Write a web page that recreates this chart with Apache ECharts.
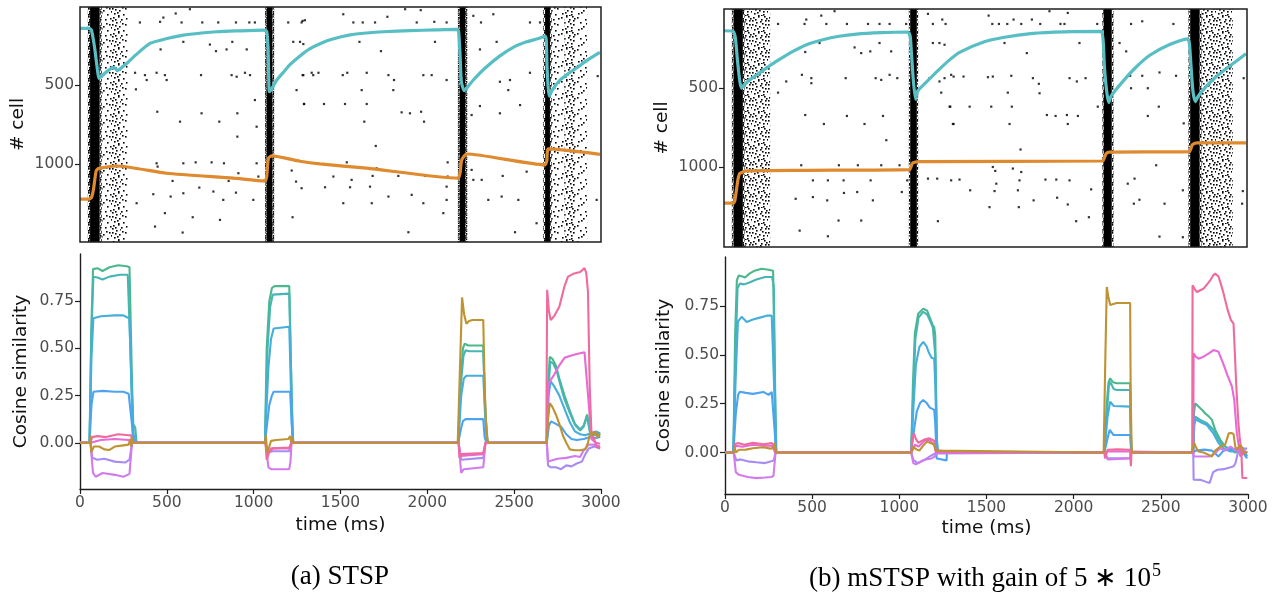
<!DOCTYPE html>
<html><head><meta charset="utf-8">
<script src="https://cdn.jsdelivr.net/npm/echarts@6/dist/echarts.min.js"></script>
<style>html,body{margin:0;padding:0;background:#fff}#c{width:1284px;height:592px}</style>
</head><body><div id="c"></div>
<script>
// ---------- DATA ----------
const xTicks = [0, 500, 1000, 1500, 2000, 2500, 3000];
const cellTicks = [500, 1000];
const cosTicks = [0, 0.25, 0.5, 0.75];
const captionA = '(a) STSP';
const captionB = '(b) mSTSP with gain of 5 \u2217 10';
const captionBsup = '5';

// raster: dense/sparse firing bands [t0, t1, density]
const bandsA = [[45,58,'dense'],[58,113,'core'],[113,125,'dense'],[125,178,'sparse'],[178,235,'medium'],[235,275,'sparse'],
  [1066,1075,'dense'],[1075,1108,'core'],[1108,1118,'dense'],
  [2176,2186,'dense'],[2186,2218,'core'],[2218,2230,'dense'],
  [2668,2678,'dense'],[2678,2706,'core'],[2706,2716,'dense'],[2716,2790,'sparse'],[2790,2850,'medium'],[2850,2920,'sparse']];
const bandsB = [[45,55,'dense'],[55,108,'core'],[108,118,'dense'],[118,265,'medium'],
  [1060,1068,'dense'],[1068,1106,'core'],[1106,1114,'dense'],
  [2170,2178,'dense'],[2178,2224,'core'],[2224,2234,'dense'],
  [2664,2674,'dense'],[2674,2728,'core'],[2728,2738,'dense'],[2738,2918,'medium']];

// raster: isolated spikes [t (ms), cell]
const spikesA = [[345,103],[461,99],[480,72],[551,46],[585,103],[633,19],[704,103],[796,103],[898,103],[975,103],[1007,103],
 [595,226],[748,243],[783,285],[844,274],[877,226],[960,274],[464,274],[317,422],[374,437],[441,422],[489,437],[322,527],
 [384,468],[499,468],[697,437],[873,437],[902,447],[950,422],[979,437],[1007,595],[445,669],[576,732],[700,679],[802,732],
 [906,679],[906,827],[1017,764],[1228,226],[1267,226],[1286,240],[1343,437],[1286,437],[1247,532],[1290,620],[441,996],
 [447,1017],[533,1108],[595,996],[666,990],[758,990],[829,996],[856,1108],[912,1059],[1017,996],[1027,1080],[422,1192],
 [522,1207],[595,1186],[687,1150],[768,1175],[825,1228],[898,1182],[998,1228],[326,1249],[489,1312],[649,1338],[806,1355],
 [432,1397],[591,1435],[1244,1112],[1219,1042],[1276,1154],[1224,1338],[1276,103],[1199,103],[1295,89],
 [1516,51],[1574,103],[1628,103],[1699,103],[1770,67],[1872,19],[1939,103],[1962,25],[2040,99],[2111,103],[2265,61],
 [2309,103],[2380,51],[2591,103],[2649,103],[1282,93],[1609,226],[1733,285],[2044,226],[2303,274],[2399,226],[1282,437],
 [1334,422],[1373,422],[1513,437],[1539,422],[1651,422],[1776,437],[1808,468],[1977,437],[2025,437],[2111,468],[2476,468],
 [2591,422],[1622,532],[1804,532],[2418,479],[2466,532],[1290,620],[1405,620],[1526,620],[1651,620],[1852,673],[1900,679],
 [1964,669],[1981,732],[1637,732],[2255,690],[2303,633],[2418,679],[2534,627],[1703,886],[1536,990],[1708,1028],[2117,990],
 [1459,1080],[1564,1101],[1685,1076],[1833,1076],[1987,1076],[2117,1080],[2255,1038],[2313,1101],[2434,1076],[2572,1049],
 [1411,1148],[1555,1148],[1670,1144],[1776,1207],[1910,1196],[2111,1144],[2265,1101],[1516,1249],[1680,1249],[1977,1249],
 [2111,1228],[2351,1228],[2428,1207],[2524,1228],[2092,1312],[1891,1433],[2505,1433],[2629,1376],[2975,1228],[2981,443]];
const spikesB = [[310,92],[462,92],[472,64],[558,39],[587,92],[634,11],[705,92],[826,92],[892,92],[950,92],[1045,92],
 [548,213],[749,241],[787,277],[839,266],[892,213],[959,266],[466,270],[357,457],[310,528],[447,415],[501,436],[501,468],
 [698,436],[870,436],[902,447],[950,415],[994,436],[466,670],[573,727],[705,676],[806,727],[912,676],[931,830],[443,989],
 [510,1085],[596,1085],[659,989],[686,1085],[768,989],[841,1085],[902,989],[1007,989],[1051,1085],[411,1202],[510,1191],
 [592,1212],[688,1165],[764,1159],[854,1212],[1020,1159],[657,1340],[787,1340],[434,1404],[596,1440],[1170,28],[1198,92],
 [1252,64],[1271,92],[1198,213],[1236,213],[1265,224],[1179,436],[1236,457],[1265,436],[1303,415],[1246,528],[1294,617],
 [1313,727],[1170,1074],[1223,1074],[1303,1085],[1227,1344],
 [1518,39],[1539,92],[1577,92],[1625,92],[1661,64],[1705,92],[1766,64],[1814,92],[1867,11],[1930,92],[1953,92],[1972,22],
 [2141,92],[1609,213],[1737,277],[2039,213],[1317,426],[1374,426],[1514,430],[1542,426],[1648,421],[1772,436],[1806,472],
 [1810,532],[1628,528],[1982,436],[2024,457],[2074,436],[1298,617],[1409,617],[1533,617],[1651,617],[1852,670],[1902,676],
 [1967,670],[2030,676],[2144,617],[1317,727],[1638,727],[1972,727],[1701,889],[1542,1000],[1556,1025],[1657,1010],[1705,1032],
 [1351,1080],[1562,1106],[1695,1085],[1844,1080],[1906,1080],[1982,1085],[1412,1148],[1552,1153],[1686,1148],[2106,1142],
 [1776,1212],[1911,1195],[1972,1238],[1523,1255],[1691,1255],[2020,1344],[2093,1319],[2335,92],[2399,75],[2578,92],[2269,213],
 [2307,266],[2498,400],[2593,421],[2330,421],[2399,421],[2335,500],[2431,500],[2494,617],[2431,676],[2637,723],[2355,1074],
 [2479,989],[2316,1106],[2632,1148],[2383,1208],[2351,1233],[2527,1233],[2498,1442],[2632,1446],[2981,436],[2976,1153],[2972,1233]];

// overlay traces on raster (in cell units)
const cyanA = [[0,141],[50,141],[65,150],[75,200],[86,278],[100,400],[109,458],[125,443],[160,410],[192,388],[203,395],[215,408],[240,388],[269,363],[320,310],[403,236],[500,205],[595,183],[700,170],[787,162],[900,157],[1056,152],[1075,160],[1083,265],[1090,542],[1100,530],[1133,468],[1170,420],[1209,370],[1267,315],[1320,272],[1382,238],[1450,210],[1555,182],[1650,170],[1747,162],[1900,155],[2050,150],[2169,147],[2180,160],[2188,300],[2196,480],[2213,536],[2230,515],[2265,468],[2330,395],[2418,315],[2500,258],[2572,226],[2640,205],[2678,190],[2685,220],[2690,400],[2702,570],[2720,530],[2764,468],[2800,437],[2841,405],[2880,375],[2917,345],[2960,315],[2994,292]];
const orangeA = [[0,1223],[50,1223],[65,1215],[77,1165],[90,1060],[96,1038],[115,1027],[211,1013],[499,1059],[883,1090],[1065,1108],[1075,1080],[1085,964],[1104,949],[1267,983],[1382,1000],[1651,1027],[2178,1090],[2188,1060],[2198,975],[2226,937],[2678,1006],[2688,980],[2697,905],[2994,939]];
const cyanB = [[0,135],[52,139],[65,180],[77,320],[90,450],[100,500],[115,480],[147,447],[243,372],[300,330],[377,277],[470,225],[567,192],[660,170],[759,156],[900,147],[1055,143],[1068,170],[1074,256],[1086,450],[1099,570],[1110,520],[1160,462],[1230,385],[1294,320],[1351,272],[1485,208],[1600,178],[1771,152],[1950,142],[2163,139],[2175,200],[2182,362],[2195,520],[2207,592],[2220,550],[2287,458],[2360,370],[2440,292],[2550,225],[2660,187],[2670,220],[2679,362],[2690,520],[2704,585],[2720,550],[2765,490],[2810,440],[2860,394],[2930,335],[2994,281]];
const orangeB = [[0,1230],[52,1230],[62,1215],[71,1149],[80,1080],[90,1042],[128,1025],[472,1021],[1064,1017],[1072,1000],[1083,974],[1122,966],[2172,962],[2182,940],[2192,915],[2211,906],[2669,902],[2679,880],[2688,857],[2717,847],[2994,847]];

// cosine similarity, panel (a)
const cosA_green = [[0,0],[55,0],[65,0.6],[75,0.92],[100,0.925],[130,0.91],[170,0.93],[220,0.94],[270,0.935],[285,0.93],[300,0.3],[310,0],
 [1065,0],[1075,0.5],[1090,0.75],[1105,0.82],[1120,0.83],[1205,0.83],[1215,0.4],[1225,0],
 [2178,0],[2190,0.3],[2205,0.5],[2215,0.525],[2235,0.515],[2322,0.515],[2332,0.2],[2345,0],
 [2688,0],[2695,0.3],[2705,0.455],[2720,0.445],[2740,0.41],[2760,0.34],[2790,0.25],[2820,0.17],[2850,0.1],[2880,0.07],[2900,0.09],[2920,0.15],[2935,0.07],[2950,0.05],[2975,0.04],[2995,0.03]];
const cosA_teal = [[0,0],[55,0],[65,0.55],[77,0.88],[100,0.875],[130,0.865],[170,0.88],[230,0.89],[275,0.89],[285,0.88],[305,0.1],[318,0.08],[326,0],
 [1065,0],[1080,0.5],[1095,0.72],[1110,0.785],[1205,0.79],[1220,0.2],[1228,0],
 [2178,0],[2192,0.3],[2208,0.46],[2220,0.49],[2240,0.485],[2322,0.485],[2335,0.15],[2348,0],
 [2688,0],[2697,0.28],[2708,0.43],[2725,0.42],[2745,0.38],[2765,0.31],[2790,0.23],[2820,0.16],[2850,0.095],[2880,0.065],[2900,0.085],[2920,0.14],[2935,0.06],[2955,0.04],[2975,0.05],[2995,0.04]];
const cosA_lightblue = [[0,0],[55,0],[66,0.45],[77,0.66],[120,0.67],[200,0.675],[250,0.675],[270,0.665],[285,0.66],[305,0],
 [1065,0],[1085,0.4],[1100,0.55],[1115,0.605],[1125,0.615],[1205,0.615],[1220,0.1],[1228,0],
 [2178,0],[2195,0.25],[2210,0.34],[2225,0.355],[2322,0.355],[2335,0.1],[2345,0],
 [2688,0],[2698,0.25],[2710,0.325],[2730,0.3],[2760,0.25],[2790,0.18],[2820,0.11],[2850,0.06],[2880,0.045],[2910,0.04],[2940,0.05],[2970,0.06],[2995,0.05]];
const cosA_blue = [[0,0],[55,0],[66,0.2],[77,0.27],[130,0.275],[200,0.27],[250,0.27],[280,0.26],[290,0.25],[305,0.05],[315,0.02],[320,0],
 [1065,0],[1090,0.2],[1105,0.25],[1115,0.27],[1210,0.27],[1222,0.05],[1228,0],
 [2178,0],[2195,0.08],[2205,0.115],[2220,0.125],[2322,0.125],[2330,0.03],[2340,0],
 [2688,0],[2700,0.09],[2712,0.113],[2740,0.1],[2770,0.085],[2800,0.045],[2830,0.02],[2860,0.015],[2900,0.02],[2940,0.03],[2970,0.025],[2995,0.03]];
const cosA_lavender = [[0,0],[60,0],[70,-0.08],[100,-0.09],[140,-0.085],[200,-0.1],[260,-0.105],[285,-0.09],[300,0],
 [1068,0],[1085,-0.05],[1110,-0.045],[1205,-0.045],[1215,0],
 [2180,0],[2195,-0.09],[2205,-0.085],[2322,-0.08],[2335,0],
 [2688,0],[2695,-0.12],[2710,-0.13],[2740,-0.13],[2770,-0.14],[2800,-0.12],[2830,-0.125],[2860,-0.11],[2890,-0.1],[2910,-0.06],[2930,-0.03],[2960,-0.02],[2995,-0.03]];
const cosA_orchid = [[0,0],[60,0],[75,-0.16],[90,-0.18],[130,-0.16],[200,-0.17],[250,-0.18],[285,-0.165],[295,-0.05],[300,0],
 [1068,0],[1085,-0.13],[1100,-0.14],[1205,-0.14],[1212,-0.1],[1218,0],
 [2180,0],[2195,-0.16],[2210,-0.14],[2322,-0.13],[2335,0],
 [2688,0],[2695,-0.1],[2710,-0.095],[2750,-0.085],[2800,-0.08],[2850,-0.07],[2880,-0.075],[2900,-0.04],[2930,-0.01],[2960,-0.01],[2995,-0.02]];
const cosA_magenta = [[0,0],[60,0],[70,0.01],[120,0.015],[200,0.02],[280,0.015],[300,0],
 [1068,0],[1080,-0.06],[1100,-0.03],[1205,-0.03],[1220,0],
 [2180,0],[2190,-0.07],[2200,-0.065],[2322,-0.06],[2335,0],
 [2688,0],[2695,0.3],[2705,0.325],[2730,0.36],[2760,0.41],[2790,0.45],[2820,0.46],[2860,0.47],[2905,0.48],[2915,0.47],[2930,0.2],[2945,0.02],[2970,0.0],[2995,-0.005]];
const cosA_pink = [[0,0],[60,0],[70,0.03],[100,0.035],[150,0.03],[220,0.045],[280,0.04],[295,0.04],[300,0],
 [1068,0],[1075,-0.09],[1090,-0.05],[1110,-0.03],[1205,-0.025],[1220,0],
 [2180,0],[2185,-0.08],[2195,-0.06],[2322,-0.055],[2335,0],
 [2685,0],[2690,0.81],[2700,0.7],[2710,0.65],[2730,0.67],[2760,0.72],[2790,0.83],[2810,0.88],[2840,0.895],[2880,0.905],[2905,0.925],[2915,0.9],[2925,0.8],[2935,0.3],[2945,0.05],[2960,0.02],[2975,-0.02],[2995,-0.03]];
const cosA_gold = [[0,0],[57,0],[60,0.04],[65,-0.05],[80,-0.02],[110,-0.02],[140,-0.035],[170,-0.038],[200,-0.02],[240,-0.015],[280,-0.01],[290,0.02],[295,-0.02],[300,0.03],[305,0],
 [1065,0],[1070,0.04],[1078,-0.05],[1090,-0.02],[1100,0.01],[1130,0.015],[1200,0.02],[1210,0.035],[1215,0.005],[1220,0.03],[1225,0],
 [2175,0],[2188,0.4],[2200,0.77],[2212,0.68],[2225,0.63],[2240,0.645],[2260,0.65],[2322,0.65],[2330,0.3],[2340,0.05],[2350,0],
 [2688,0],[2695,0.12],[2705,0.21],[2720,0.19],[2740,0.15],[2760,0.1],[2780,0.04],[2800,0.0],[2820,-0.035],[2850,-0.04],[2880,-0.04],[2910,-0.035],[2925,0.0],[2940,0.06],[2955,0.04],[2965,0.06],[2980,0.03],[2995,0.05]];

// cosine similarity, panel (b)
const cosB_green = [[0,0],[48,0],[58,0.6],[68,0.88],[78,0.905],[100,0.9],[115,0.895],[140,0.915],[170,0.93],[210,0.94],[250,0.935],[276,0.93],[285,0.4],[292,0],
 [1068,0],[1078,0.35],[1089,0.61],[1108,0.71],[1137,0.736],[1160,0.725],[1175,0.69],[1190,0.655],[1200,0.64],[1206,0.6],[1214,0.1],[1220,0],
 [2176,0],[2190,0.25],[2200,0.36],[2209,0.379],[2225,0.36],[2247,0.354],[2324,0.354],[2328,0.1],[2333,0],
 [2686,0],[2690,0.2],[2697,0.252],[2716,0.235],[2740,0.215],[2755,0.2],[2775,0.185],[2793,0.167],[2812,0.116],[2841,0.065],[2869,0.03],[2898,0.015],[2927,0.0],[2960,0.01],[2995,0.0]];
const cosB_teal = [[0,0],[48,0],[60,0.5],[72,0.84],[85,0.864],[110,0.86],[140,0.87],[180,0.885],[230,0.898],[270,0.898],[280,0.85],[288,0.3],[295,0],
 [1068,0],[1080,0.3],[1092,0.58],[1110,0.69],[1137,0.72],[1160,0.705],[1178,0.67],[1192,0.64],[1200,0.634],[1206,0.5],[1216,0.05],[1222,0],
 [2176,0],[2192,0.22],[2202,0.34],[2209,0.362],[2230,0.325],[2247,0.32],[2324,0.32],[2330,0],
 [2686,0],[2690,0.15],[2697,0.184],[2726,0.167],[2764,0.15],[2802,0.116],[2831,0.065],[2860,0.035],[2890,0.02],[2927,0.01],[2960,0.0],[2995,-0.01]];
const cosB_lightblue = [[0,0],[48,0],[62,0.4],[74,0.67],[95,0.694],[125,0.668],[160,0.68],[200,0.69],[240,0.7],[268,0.7],[276,0.69],[283,0.3],[292,0],
 [1068,0],[1082,0.25],[1095,0.45],[1115,0.54],[1137,0.566],[1155,0.545],[1170,0.51],[1185,0.485],[1200,0.48],[1206,0.35],[1215,0.03],[1222,0],
 [2176,0],[2194,0.18],[2209,0.26],[2230,0.238],[2324,0.235],[2330,0],
 [2686,0],[2692,0.14],[2700,0.17],[2730,0.155],[2764,0.14],[2800,0.1],[2830,0.05],[2860,0.02],[2900,0.005],[2940,0.01],[2970,0.02],[2995,-0.02]];
const cosB_blue = [[0,0],[48,0],[62,0.2],[75,0.294],[85,0.311],[120,0.305],[160,0.3],[220,0.31],[250,0.295],[268,0.31],[276,0.3],[290,0.05],[295,0],
 [1068,0],[1085,0.12],[1100,0.21],[1120,0.255],[1137,0.269],[1155,0.255],[1175,0.23],[1200,0.218],[1206,0.15],[1214,-0.03],[1225,-0.04],[1271,-0.04],[1273,0],
 [2176,0],[2196,0.08],[2207,0.116],[2228,0.09],[2324,0.09],[2330,0],
 [2686,0],[2700,0.01],[2750,0.015],[2793,0.01],[2830,-0.02],[2860,0.01],[2900,0.02],[2940,0.015],[2970,0.0],[2995,-0.03]];
const cosB_lavender = [[0,0],[50,0],[65,-0.04],[90,-0.035],[130,-0.045],[180,-0.05],[230,-0.054],[265,-0.045],[280,-0.04],[290,0],
 [1068,0],[1080,-0.037],[1105,-0.054],[1145,-0.037],[1175,-0.02],[1205,-0.005],[1213,0],
 [2176,0],[2195,-0.029],[2324,-0.029],[2330,0],
 [2686,0],[2688,-0.139],[2730,-0.14],[2760,-0.15],[2780,-0.156],[2800,-0.1],[2825,-0.088],[2860,-0.085],[2900,-0.075],[2918,-0.07],[2928,-0.055],[2945,0.01],[2960,0.03],[2975,0.02],[2995,0.02]];
const cosB_orchid = [[0,0],[50,0],[62,-0.1],[80,-0.114],[130,-0.125],[180,-0.131],[230,-0.128],[265,-0.125],[278,-0.12],[285,-0.05],[290,0],
 [1068,0],[1080,-0.054],[1095,-0.06],[1145,-0.037],[1185,-0.03],[1205,-0.02],[1213,0],
 [2176,0],[2195,-0.035],[2324,-0.03],[2330,0],
 [2686,0],[2690,-0.02],[2720,-0.02],[2780,-0.02],[2810,-0.005],[2840,0.022],[2870,0.01],[2900,0.03],[2930,0.01],[2960,0.02],[2995,0.0]];
const cosB_magenta = [[0,0],[50,0],[62,0.035],[100,0.03],[160,0.04],[220,0.035],[270,0.035],[288,0],
 [1070,0],[1090,0.04],[1110,0.03],[1145,0.06],[1170,0.065],[1200,0.04],[1210,0],
 [2176,0],[2195,0.005],[2324,0.005],[2330,0],
 [2686,0],[2688,0.507],[2700,0.49],[2716,0.48],[2745,0.49],[2780,0.51],[2802,0.524],[2831,0.515],[2860,0.45],[2880,0.4],[2908,0.337],[2921,0.27],[2936,0.099],[2956,-0.02],[2975,0.0],[2995,0.0]];
const cosB_pink = [[0,0],[50,0],[60,0.045],[80,0.048],[110,0.04],[160,0.05],[220,0.042],[268,0.048],[280,0.04],[290,0],
 [1068,0],[1072,0.05],[1083,0.099],[1095,0.07],[1108,0.05],[1140,0.065],[1170,0.073],[1200,0.06],[1210,0.01],[1230,0.01],[1271,0.005],[1273,0],
 [2176,0],[2180,-0.03],[2195,0.014],[2250,0.016],[2324,0.014],[2328,-0.07],[2332,0],
 [2680,0],[2682,0.855],[2695,0.835],[2707,0.821],[2726,0.83],[2745,0.838],[2765,0.86],[2783,0.88],[2800,0.905],[2812,0.915],[2831,0.9],[2845,0.86],[2860,0.813],[2880,0.74],[2902,0.677],[2917,0.66],[2925,0.5],[2933,0.337],[2945,0.15],[2952,0.08],[2962,0.0],[2968,-0.13],[2995,-0.13]];
const cosB_gold = [[0,0],[50,0],[55,0.03],[62,0.0],[80,0.014],[120,0.015],[160,0.022],[220,0.027],[260,0.02],[280,0.025],[287,0.05],[292,0],
 [1068,0],[1072,-0.003],[1078,0.03],[1100,0.015],[1115,0.01],[1140,0.039],[1160,0.056],[1180,0.048],[1200,0.04],[1208,0.01],[1213,0],
 [2172,0],[2182,0.5],[2190,0.847],[2200,0.79],[2210,0.755],[2218,0.753],[2228,0.76],[2247,0.765],[2324,0.765],[2327,0.3],[2333,0],
 [2676,0],[2682,0.0],[2691,0.051],[2700,0.03],[2716,0.005],[2745,0.0],[2774,-0.012],[2793,-0.02],[2812,0.01],[2841,0.03],[2869,0.04],[2890,0.099],[2905,0.1],[2917,0.095],[2927,0.03],[2936,0.015],[2955,0.04],[2968,0.02],[2978,-0.005],[2995,0.005]];

// ---------- STYLE ----------
const palette = {green:'#4bb78b', teal:'#47b5b3', lightblue:'#46aedb', blue:'#4da3ef', lavender:'#a68cf3',
  orchid:'#d27bec', magenta:'#e76ad6', pink:'#ef6b9e', gold:'#bd9333'};
const cosOrder = ['green','teal','lightblue','blue','lavender','orchid','magenta','pink','gold'];
const cosA = {green:cosA_green, teal:cosA_teal, lightblue:cosA_lightblue, blue:cosA_blue, lavender:cosA_lavender, orchid:cosA_orchid, magenta:cosA_magenta, pink:cosA_pink, gold:cosA_gold};
const cosB = {green:cosB_green, teal:cosB_teal, lightblue:cosB_lightblue, blue:cosB_blue, lavender:cosB_lavender, orchid:cosB_orchid, magenta:cosB_magenta, pink:cosB_pink, gold:cosB_gold};

function makePattern(dots, size, s) {
  const c = document.createElement('canvas'); c.width = size; c.height = size;
  const g = c.getContext('2d'); g.fillStyle = '#000';
  dots.forEach(d => g.fillRect(d[0], d[1], s, s));
  return {image: c, repeat: 'repeat'};
}
const fills = {
  core: '#000',
  dense: makePattern([[0,0],[2,1],[5,0],[7,2],[1,3],[4,3],[6,5],[3,5],[0,6],[2,7],[5,7],[7,4],[3,1],[1,5]], 8, 1.7),
  medium: makePattern([[1,1],[9,3],[4,6],[13,8],[7,10],[2,13],[11,14],[14,2],[6,0],[10,7],[3,3],[12,0],[0,8],[8,5],[15,11],[5,12],[9,15],[13,4],[3,9],[11,11],[6,15],[0,4]], 16, 1.6),
  sparse: makePattern([[1,1],[9,3],[4,6],[13,8],[7,10],[2,13],[11,14],[14,2],[10,7],[5,12]], 16, 1.6)
};

const tickFont = {fontFamily:'DejaVu Sans', fontSize:15.5, color:'#4d4d4d'};
const nameFont = {fontFamily:'DejaVu Sans', fontSize:18.5, color:'#111'};

const grids = [
  {left:80, top:7, width:521, height:235, show:true, z:10, backgroundColor:'transparent', borderColor:'#1e1e1e', borderWidth:1.5},
  {left:80, top:254, width:521, height:235},
  {left:724, top:9, width:523, height:238, show:true, z:10, backgroundColor:'transparent', borderColor:'#1e1e1e', borderWidth:1.5},
  {left:725, top:257, width:523, height:237}
];

function topX(gi){ return {type:'value', gridIndex:gi, min:0, max:3000, show:false}; }
function botX(gi, gap){ return {type:'value', gridIndex:gi, min:0, max:3000, interval:500,
  axisLine:{show:true, onZero:false, lineStyle:{color:'#1e1e1e', width:1.4}},
  axisTick:{show:true, length:5, lineStyle:{color:'#1e1e1e', width:1.2}},
  axisLabel:{...tickFont, margin:6, formatter:v=>String(v)}, splitLine:{show:false},
  name:'time (ms)', nameLocation:'middle', nameGap:gap, nameTextStyle:nameFont}; }
function topY(gi, mn, mx, gap){ return {type:'value', gridIndex:gi, min:mn, max:mx, inverse:true,
  axisLine:{show:false, onZero:false}, splitLine:{show:false},
  axisTick:{show:true, length:5, customValues:cellTicks, lineStyle:{color:'#1e1e1e', width:1.2}},
  axisLabel:{...tickFont, margin:6, customValues:cellTicks, formatter:v=>String(v)},
  name:'# cell', nameLocation:'middle', nameRotate:90, nameGap:gap, nameTextStyle:nameFont}; }
function botY(gi, mn, mx, gap){ return {type:'value', gridIndex:gi, min:mn, max:mx,
  axisLine:{show:true, onZero:false, lineStyle:{color:'#1e1e1e', width:1.4}}, splitLine:{show:false},
  axisTick:{show:true, length:5, customValues:cosTicks, lineStyle:{color:'#1e1e1e', width:1.2}},
  axisLabel:{...tickFont, margin:6, customValues:cosTicks, formatter:v=>v.toFixed(2)},
  name:'Cosine similarity', nameLocation:'middle', nameRotate:90, nameGap:gap, nameTextStyle:nameFont}; }

function bandSeries(gi, bands){
  return {type:'custom', xAxisIndex:gi, yAxisIndex:gi, silent:true, z:1, clip:true,
    data: bands.map(b => [b[0], b[1], ['core','dense','medium','sparse'].indexOf(b[2])]),
    encode:{x:[0,1]},
    renderItem:(params, api) => {
      const cs = params.coordSys;
      const x0 = api.coord([api.value(0), 500])[0];
      const x1 = api.coord([api.value(1), 500])[0];
      const k = ['core','dense','medium','sparse'][api.value(2)];
      return {type:'rect', shape:{x:x0, y:cs.y, width:x1-x0, height:cs.height}, style:{fill:fills[k]}};
    }};
}
function spikeSeries(gi, pts){
  return {type:'scatter', xAxisIndex:gi, yAxisIndex:gi, silent:true, z:2, data:pts,
    symbol:'rect', symbolSize:2.2, itemStyle:{color:'#000'}};
}
function traceSeries(gi, pts, color){
  return {type:'line', xAxisIndex:gi, yAxisIndex:gi, silent:true, z:4, data:pts, showSymbol:false,
    smooth:0.2,
    lineStyle:{color:color, width:3.2}, itemStyle:{color:color}};
}
function cosSeries(gi, set){
  return cosOrder.map((k,i) => ({type:'line', xAxisIndex:gi, yAxisIndex:gi, silent:true, z:3+i*0.01, data:set[k],
    showSymbol:false, lineStyle:{color:palette[k], width:2.1}, itemStyle:{color:palette[k]}}));
}

const option = {
  animation:false,
  backgroundColor:'#fff',
  grid: grids,
  xAxis: [topX(0), botX(1, 27), topX(2), botX(3, 25)],
  yAxis: [topY(0, 5, 1495, 52), botY(1, -0.245, 1.0, 49), topY(2, -3, 1508, 52), botY(3, -0.212, 1.0, 51)],
  series: [
    bandSeries(0, bandsA), spikeSeries(0, spikesA), traceSeries(0, cyanA, '#57bec4'), traceSeries(0, orangeA, '#df8a2e'),
    ...cosSeries(1, cosA),
    bandSeries(2, bandsB), spikeSeries(2, spikesB), traceSeries(2, cyanB, '#57bec4'), traceSeries(2, orangeB, '#df8a2e'),
    ...cosSeries(3, cosB)
  ],
  graphic: [
    {type:'text', x:340, y:577, style:{text:captionA, textAlign:'center', textVerticalAlign:'middle',
      font:'27px "Liberation Serif"', fill:'#000'}},
    {type:'text', x:985, y:577, style:{text:'{m|' + captionB + '}{s|' + captionBsup + '}', textAlign:'center', textVerticalAlign:'middle',
      rich:{m:{fontFamily:'Liberation Serif', fontSize:27, color:'#000', lineHeight:31, verticalAlign:'bottom'},
            s:{fontFamily:'Liberation Serif', fontSize:18, color:'#000', lineHeight:31, verticalAlign:'bottom', padding:[0,0,12,1]}}}}
  ]
};
const chart = echarts.init(document.getElementById('c'), null, {renderer:'canvas'});
chart.setOption(option);
</script></body></html>
